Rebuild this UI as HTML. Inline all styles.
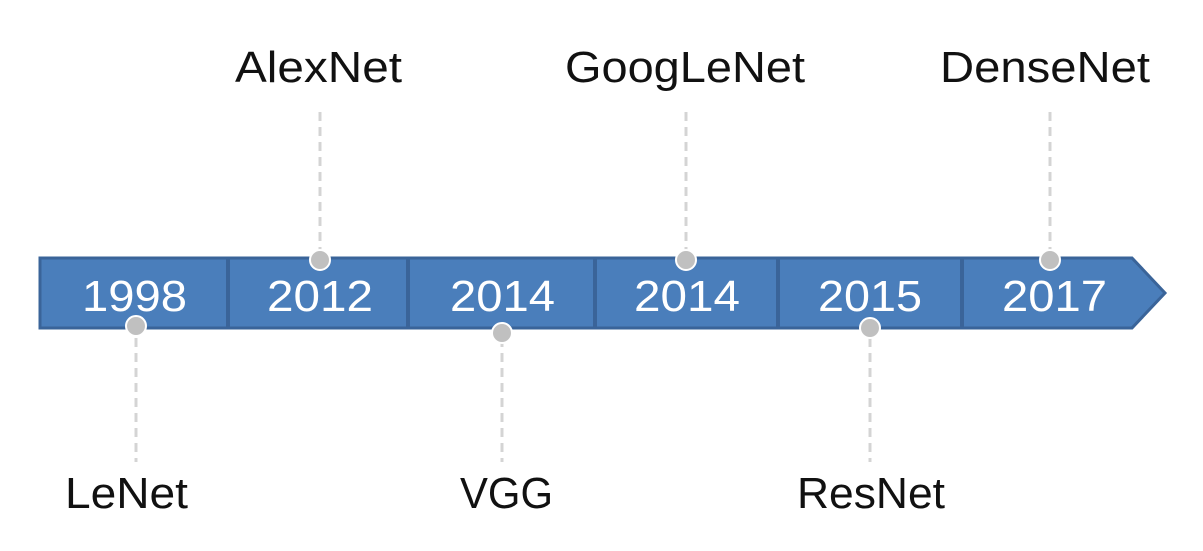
<!DOCTYPE html>
<html><head><style>body{margin:0;background:#fff}svg{display:block}</style></head>
<body>
<svg width="1203" height="551" viewBox="0 0 1203 551" xmlns="http://www.w3.org/2000/svg">
<g stroke="#d4d4d4" stroke-width="3" stroke-dasharray="9,6">
<line x1="320" y1="112" x2="320" y2="252"/>
<line x1="686" y1="112" x2="686" y2="252"/>
<line x1="1050" y1="112" x2="1050" y2="252"/>
<line x1="136" y1="338" x2="136" y2="462"/>
<line x1="502" y1="338" x2="502" y2="462"/>
<line x1="870" y1="338" x2="870" y2="462"/>
</g>
<polygon points="40,258 1132,258 1165,293 1132,328 40,328" fill="#4a7ebb" stroke="#3a6499" stroke-width="3"/>
<g stroke="#3a6499" stroke-width="4">
<line x1="228" y1="259" x2="228" y2="327"/>
<line x1="408" y1="259" x2="408" y2="327"/>
<line x1="595" y1="259" x2="595" y2="327"/>
<line x1="778" y1="259" x2="778" y2="327"/>
<line x1="962" y1="259" x2="962" y2="327"/>
</g>
<g font-family="Liberation Sans, sans-serif" font-size="44" fill="#fff" lengthAdjust="spacingAndGlyphs">
<text x="82" y="311" textLength="105" lengthAdjust="spacingAndGlyphs">1998</text>
<text x="267" y="311" textLength="106" lengthAdjust="spacingAndGlyphs">2012</text>
<text x="450" y="311" textLength="105" lengthAdjust="spacingAndGlyphs">2014</text>
<text x="634" y="311" textLength="106" lengthAdjust="spacingAndGlyphs">2014</text>
<text x="818" y="311" textLength="104" lengthAdjust="spacingAndGlyphs">2015</text>
<text x="1002" y="311" textLength="105" lengthAdjust="spacingAndGlyphs">2017</text>
</g>
<g fill="#c0c0c0" stroke="#fff" stroke-width="2">
<circle cx="320" cy="260" r="10"/>
<circle cx="686" cy="260" r="10"/>
<circle cx="1050" cy="260" r="10"/>
<circle cx="136" cy="326" r="10"/>
<circle cx="502" cy="333" r="10"/>
<circle cx="870" cy="328" r="10"/>
</g>
<g font-family="Liberation Sans, sans-serif" font-size="44" fill="#111">
<text x="235" y="82" textLength="167" lengthAdjust="spacingAndGlyphs">AlexNet</text>
<text x="565" y="82" textLength="240" lengthAdjust="spacingAndGlyphs">GoogLeNet</text>
<text x="940" y="82" textLength="210" lengthAdjust="spacingAndGlyphs">DenseNet</text>
<text x="65" y="508" textLength="123" lengthAdjust="spacingAndGlyphs">LeNet</text>
<text x="460" y="508" textLength="93" lengthAdjust="spacingAndGlyphs">VGG</text>
<text x="797" y="508" textLength="148" lengthAdjust="spacingAndGlyphs">ResNet</text>
</g>
</svg>
</body></html>
